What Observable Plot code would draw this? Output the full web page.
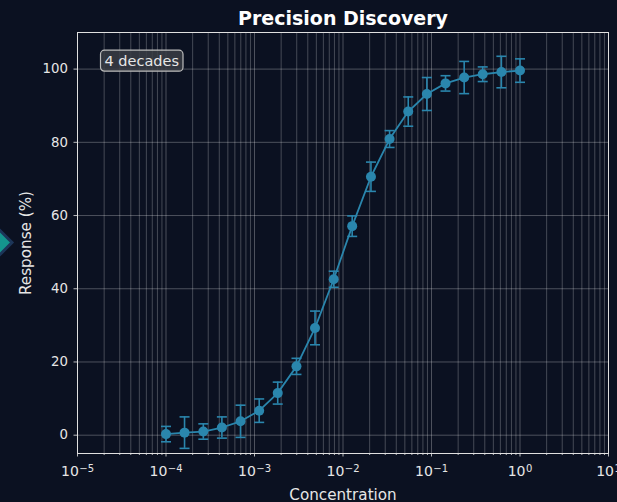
<!DOCTYPE html>
<html><head><meta charset="utf-8">
<script src="https://cdn.jsdelivr.net/npm/d3@7"></script>
<script src="https://cdn.jsdelivr.net/npm/@observablehq/plot@0.6"></script>
<style>
body{margin:0;background:#0b1121;}
#chart{position:relative;width:617px;height:502px;}
</style>
</head><body><div id="chart"></div>
<script>
const concentration = [1e-4, 1.62e-4, 2.64e-4, 4.28e-4, 6.95e-4, 1.13e-3, 1.83e-3, 2.98e-3, 4.83e-3, 7.85e-3,
  1.27e-2, 2.07e-2, 3.36e-2, 5.46e-2, 8.86e-2, 0.144, 0.234, 0.379, 0.616, 1.0];
const response = [0.3, 0.7, 1.0, 2.1, 3.8, 6.7, 11.5, 18.8, 29.3, 42.6,
  57.1, 70.6, 80.9, 88.4, 93.2, 96.1, 97.7, 98.6, 99.2, 99.6];
const errorBar = [2.1, 4.3, 2.1, 2.9, 4.4, 3.2, 3.0, 2.2, 4.6, 2.2,
  2.8, 4.0, 2.3, 4.0, 4.5, 2.1, 4.4, 2.0, 4.3, 3.2];
const xMajorTicks = [1e-5, 1e-4, 1e-3, 1e-2, 1e-1, 1e0, 1e1];
const xTickBase = "10";
const xTickExponents = ["−5", "−4", "−3", "−2", "−1", "0", "1"];
const yTicks = [0, 20, 40, 60, 80, 100];
const titleText = "Precision Discovery";
const xLabelText = "Concentration";
const yLabelText = "Response (%)";
const annotationText = "4 decades";

const data = concentration.map((c, i) => ({c, y: response[i], e: errorBar[i]}));
const xMinorTicks = xMajorTicks.slice(0, -1).flatMap(t => [2,3,4,5,6,7,8,9].map(m => m * t));
const lineColor = "#2a86ad";
const font = "DejaVu Sans, sans-serif";
const tickColor = "#e6e6e6";

const capSymbol = {
  draw(context, size) {
    const r = Math.sqrt(size / Math.PI);
    context.moveTo(-r, 0);
    context.lineTo(r, 0);
  }
};

const chart = Plot.plot({
  width: 617,
  height: 502,
  marginTop: 32,
  marginBottom: 49,
  marginLeft: 77,
  marginRight: 9,
  style: {background: "transparent", color: tickColor, fontFamily: font, fontSize: "13px", overflow: "visible"},
  x: {type: "log", domain: [1e-5, 10]},
  y: {domain: [-5, 110]},
  marks: [
    Plot.ruleX(xMinorTicks, {stroke: "#ffffff", strokeOpacity: 0.3, strokeWidth: 0.8}),
    Plot.ruleX(xMajorTicks, {stroke: "#ffffff", strokeOpacity: 0.34, strokeWidth: 0.8}),
    Plot.ruleY(yTicks, {stroke: "#ffffff", strokeOpacity: 0.34, strokeWidth: 0.8}),
    Plot.axisX(xMinorTicks, {tickSize: 2, tickFormat: () => "", stroke: tickColor, strokeWidth: 0.8, label: null}),
    Plot.axisX(xMajorTicks, {tickSize: 3.5, tickPadding: 9.5, stroke: tickColor, strokeWidth: 0.8,
      tickFormat: d => xTickBase + "|" + xTickExponents[xMajorTicks.indexOf(d)], fill: tickColor, fontSize: 14, label: null}),
    Plot.axisY(yTicks, {tickSize: 3.5, tickPadding: 6, stroke: tickColor, strokeWidth: 0.8, fill: tickColor, fontSize: 13.3, label: null}),
    Plot.frame({stroke: "#e0e0e0", strokeWidth: 1}),
    Plot.ruleX(data, {x: "c", y1: d => d.y - d.e, y2: d => d.y + d.e, stroke: lineColor, strokeWidth: 1.6}),
    Plot.dot(data, {x: "c", y: d => d.y + d.e, symbol: capSymbol, r: 5, stroke: lineColor, strokeWidth: 1.6}),
    Plot.dot(data, {x: "c", y: d => d.y - d.e, symbol: capSymbol, r: 5, stroke: lineColor, strokeWidth: 1.6}),
    Plot.line(data, {x: "c", y: "y", stroke: lineColor, strokeWidth: 1.8}),
    Plot.dot(data, {x: "c", y: "y", r: 5, fill: lineColor, stroke: "none"}),
    Plot.text([titleText], {frameAnchor: "top", dy: -8, text: d => d, fontSize: 19, fontWeight: "bold", fill: "#ffffff", lineAnchor: "bottom"}),
    Plot.text([xLabelText], {frameAnchor: "bottom", dy: 46, text: d => d, fontSize: 15.2, fill: tickColor, lineAnchor: "bottom"}),
    Plot.text([yLabelText], {frameAnchor: "left", dx: -51, text: d => d, fontSize: 15.2, fill: tickColor, rotate: -90, textAnchor: "middle", lineAnchor: "middle"}),
    Plot.text([annotationText], {frameAnchor: "top-left", dx: 27, dy: 28.5, text: d => d, fontSize: 14.5, fill: tickColor, textAnchor: "start", lineAnchor: "middle", className: "annot"})
  ]
});

document.getElementById("chart").appendChild(chart);

// tick label sizes (on groups and texts)
d3.select(chart).selectAll("g[aria-label='y-axis tick label']")
  .attr("font-size", 13.3).style("font-size", "13.3px");
d3.select(chart).selectAll("g[aria-label='y-axis tick label'] text")
  .attr("font-size", 13.3).style("font-size", "13.3px").style("font-family", font);
d3.select(chart).selectAll("g[aria-label='x-axis tick label']")
  .attr("font-size", 14).style("font-size", "14px");
d3.select(chart).selectAll("g[aria-label='x-axis tick label'] text")
  .attr("font-size", 14).style("font-size", "14px").style("font-family", font);

// superscript exponents on the log axis labels
chart.querySelectorAll("g[aria-label='x-axis tick label'] text").forEach(t => {
  const s = t.textContent;
  if (!s.includes("|")) return;
  const [base, exp] = s.split("|");
  t.textContent = base;
  const ns = "http://www.w3.org/2000/svg";
  const sp = document.createElementNS(ns, "tspan");
  sp.setAttribute("dy", "-0.45em");
  sp.setAttribute("dx", "0.5");
  sp.setAttribute("font-size", "10");
  sp.style.fontSize = "10px";
  sp.textContent = exp;
  t.appendChild(sp);
});

// rounded box behind annotation text
const annot = chart.querySelector(".annot text");
if (annot) {
  const bb = annot.getBBox();
  const ns = "http://www.w3.org/2000/svg";
  const rect = document.createElementNS(ns, "rect");
  rect.setAttribute("x", bb.x - 4);
  rect.setAttribute("y", bb.y - 2.5);
  rect.setAttribute("width", bb.width + 8);
  rect.setAttribute("height", bb.height + 5);
  rect.setAttribute("rx", 4);
  rect.setAttribute("fill", "#3a3d44");
  rect.setAttribute("fill-opacity", 0.85);
  rect.setAttribute("stroke", "#bcbcbc");
  rect.setAttribute("stroke-width", 1.2);
  const tr = annot.getAttribute("transform");
  if (tr) rect.setAttribute("transform", tr);
  annot.parentNode.insertBefore(rect, annot);
}

// decorative diamond on the left edge
const svg = d3.select(chart);
const yScale = chart.scale("y");
const midY = (yScale.apply(-5) + yScale.apply(110)) / 2;
svg.append("polygon")
  .attr("points", [[-12, midY], [0, midY - 12], [12, midY], [0, midY + 12]].map(p => p.join(",")).join(" "))
  .attr("fill", "#14958e")
  .attr("stroke", "#1c3558")
  .attr("stroke-width", 3);
</script>
</body></html>
